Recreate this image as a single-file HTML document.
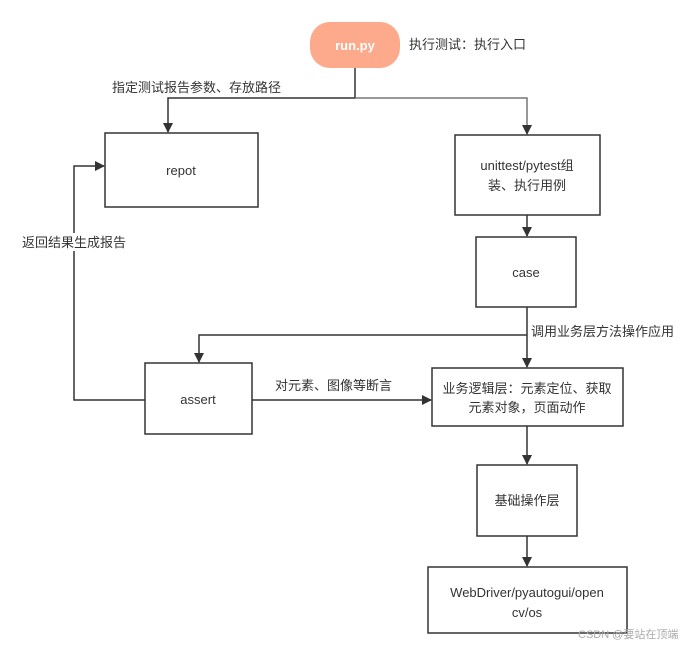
<!DOCTYPE html>
<html><head><meta charset="utf-8"><style>
body{margin:0;background:#fff;}
svg{display:block;font-family:"Liberation Sans","Noto Sans CJK SC",sans-serif;}
</style></head><body>
<svg width="691" height="649" viewBox="0 0 691 649" xmlns="http://www.w3.org/2000/svg">
<defs><marker id="a" markerWidth="10" markerHeight="10" refX="9" refY="5" orient="auto" markerUnits="userSpaceOnUse"><path d="M0,0 L10,5 L0,10 z" fill="#333"/></marker></defs>
<g fill="none" stroke="#333" stroke-width="1.5">
<rect x="105" y="133" width="153" height="74" fill="#fff"/>
<rect x="455" y="135" width="145" height="80"/>
<rect x="476" y="237" width="100" height="70"/>
<rect x="145" y="363" width="107" height="71"/>
<rect x="432" y="368" width="191" height="58"/>
<rect x="477" y="465" width="100" height="71"/>
<rect x="428" y="567" width="199" height="66"/>
<path d="M355 68 V98 H168 V132" marker-end="url(#a)"/>
<path d="M355 98 H527 V134" stroke="#777" marker-end="url(#a)"/>
<path d="M527 215 V236" marker-end="url(#a)"/>
<path d="M527 307 V367" marker-end="url(#a)"/>
<path d="M527 335 H199 V362" marker-end="url(#a)"/>
<path d="M252 400 H431" marker-end="url(#a)"/>
<path d="M145 400 H74 V166 H104" marker-end="url(#a)"/>
<path d="M527 426 V464" marker-end="url(#a)"/>
<path d="M527 536 V566" marker-end="url(#a)"/>
</g>
<rect x="310" y="22" width="90" height="46" rx="20" fill="#fca98c"/>
<rect x="20" y="233" width="110" height="18" fill="#fff"/>
<g font-size="13" fill="#333">
<text x="355" y="50" text-anchor="middle" fill="#fff" font-weight="bold">run.py</text>
<text x="409" y="49">执行测试：执行入口</text>
<text x="112" y="92">指定测试报告参数、存放路径</text>
<text x="181" y="175" text-anchor="middle">repot</text>
<text x="527" y="170" text-anchor="middle">unittest/pytest组</text>
<text x="527" y="190" text-anchor="middle">装、执行用例</text>
<text x="526" y="277" text-anchor="middle">case</text>
<text x="531" y="336">调用业务层方法操作应用</text>
<text x="22" y="247">返回结果生成报告</text>
<text x="198" y="404" text-anchor="middle">assert</text>
<text x="275" y="390">对元素、图像等断言</text>
<text x="527" y="393" text-anchor="middle">业务逻辑层：元素定位、获取</text>
<text x="527" y="412" text-anchor="middle">元素对象，页面动作</text>
<text x="527" y="505" text-anchor="middle">基础操作层</text>
<text x="527" y="597" text-anchor="middle">WebDriver/pyautogui/open</text>
<text x="527" y="617" text-anchor="middle">cv/os</text>
</g>
<text x="578" y="638" font-size="11" fill="#aaa">CSDN @要站在顶端</text>
</svg>
</body></html>
